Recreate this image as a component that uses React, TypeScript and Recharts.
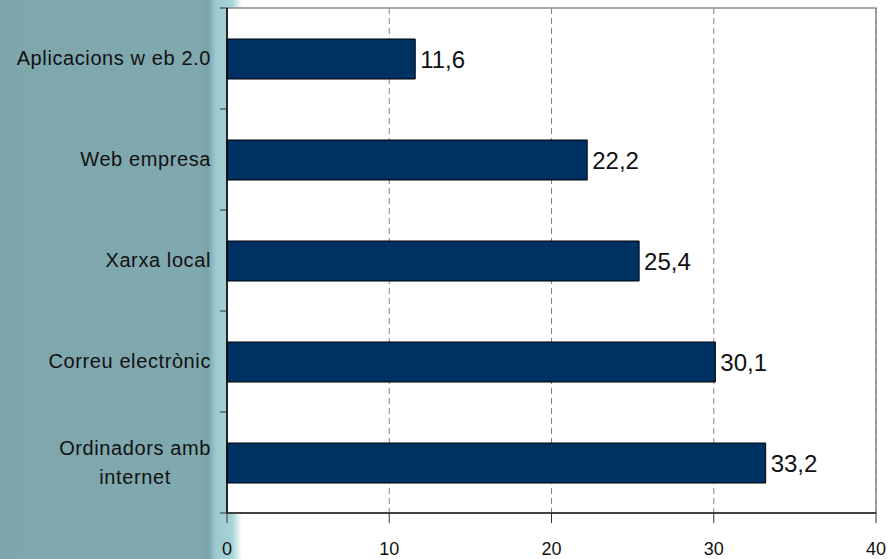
import React from "react";
import {
  BarChart,
  Bar,
  XAxis,
  YAxis,
  CartesianGrid,
  LabelList,
  ReferenceArea,
} from "recharts";

const categories = [
  "Aplicacions w eb 2.0",
  "Web empresa",
  "Xarxa local",
  "Correu electrònic",
  "Ordinadors amb\ninternet",
];
const values = [11.6, 22.2, 25.4, 30.1, 33.2];
const xTicks = [0, 10, 20, 30, 40];

const data = categories.map((c, i) => ({ name: c, value: values[i] }));

const W = 888;
const H = 559;
const M_TOP = 8;
const M_RIGHT = 12;
const M_BOTTOM = 10;
const X_AXIS_H = 36;
const Y_AXIS_W = 227;
const BAND = (H - M_TOP - M_BOTTOM - X_AXIS_H) / categories.length;
const FONT = "'Liberation Sans', Arial, Helvetica, sans-serif";
const CAT_FS = 20;
const CAT_LS = 0.6;
const LABEL_RIGHT = 211;

let ctx: CanvasRenderingContext2D | null = null;
function measure(t: string): number {
  if (!ctx) {
    const c = document.createElement("canvas");
    ctx = c.getContext("2d");
  }
  if (!ctx) return t.length * CAT_FS * 0.5;
  ctx.font = `${CAT_FS}px 'Liberation Sans', Arial, sans-serif`;
  try {
    (ctx as any).letterSpacing = `${CAT_LS}px`;
  } catch (e) {}
  return ctx.measureText(t).width;
}

const CatTick = (props: any) => {
  const { y, payload, index } = props;
  const lines: string[] = String(payload.value).split("\n");
  const widths = lines.map(measure);
  const maxW = Math.max(...widths);
  const cx = LABEL_RIGHT - maxW / 2;
  const lh = 29;
  const startY = y - ((lines.length - 1) * lh) / 2;
  const last = index === categories.length - 1;
  return (
    <g>
      <line x1={Y_AXIS_W - 7} x2={Y_AXIS_W} y1={y - BAND / 2} y2={y - BAND / 2} stroke="#333" strokeWidth={1} />
      {last && (
        <line x1={Y_AXIS_W - 7} x2={Y_AXIS_W} y1={y + BAND / 2} y2={y + BAND / 2} stroke="#333" strokeWidth={1} />
      )}
      <text
        textAnchor={lines.length > 1 ? "middle" : "end"}
        fontSize={CAT_FS}
        fontFamily={FONT}
        fill="#111"
        style={{ letterSpacing: `${CAT_LS}px` }}
      >
        {lines.map((l, i) => (
          <tspan
            key={i}
            x={lines.length > 1 ? cx : LABEL_RIGHT}
            y={startY + i * lh}
            dy="0.33em"
          >
            {l}
          </tspan>
        ))}
      </text>
    </g>
  );
};

export default function App() {
  return (
    <div
      style={{
        position: "absolute",
        left: 0,
        top: 0,
        width: W,
        height: H,
        background:
          "linear-gradient(to right, #7ea6ad 0px, #80a8af 200px, #7aa3aa 208px, #9ccacf 216px, #a6d3d7 232px, #ffffff 242px)",
      }}
    >
      <BarChart
        width={W}
        height={H}
        data={data}
        layout="vertical"
        margin={{ top: M_TOP, right: M_RIGHT, bottom: M_BOTTOM, left: 0 }}
        barCategoryGap="60%"
      >
        <CartesianGrid
          horizontal={false}
          vertical={true}
          stroke="#808080"
          strokeDasharray="6 4"
          fill="#ffffff"
          fillOpacity={1}
        />
        <ReferenceArea
          x1={0}
          x2={40}
          fill="none"
          stroke="#8a8a8a"
          strokeWidth={1.5}
          ifOverflow="visible"
        />
        <XAxis
          type="number"
          domain={[0, 40]}
          ticks={xTicks}
          interval={0}
          height={X_AXIS_H}
          tickSize={10}
          tickMargin={19}
          axisLine={{ stroke: "#222", strokeWidth: 1.5 }}
          tickLine={{ stroke: "#333" }}
          tick={{ fontSize: 18, fill: "#111", fontFamily: FONT }}
        />
        <YAxis
          type="category"
          dataKey="name"
          width={Y_AXIS_W}
          axisLine={{ stroke: "#000", strokeWidth: 1.5 }}
          tickLine={false}
          interval={0}
          tick={<CatTick />}
        />
        <Bar
          dataKey="value"
          fill="#003163"
          stroke="#000"
          strokeWidth={1}
          barSize={40}
          isAnimationActive={false}
        >
          <LabelList
            dataKey="value"
            position="right"
            offset={5}
            formatter={(v: any) => String(v).replace(".", ",")}
            style={{ fontSize: 24, fill: "#111", fontFamily: FONT }}
          />
        </Bar>
      </BarChart>
    </div>
  );
}
